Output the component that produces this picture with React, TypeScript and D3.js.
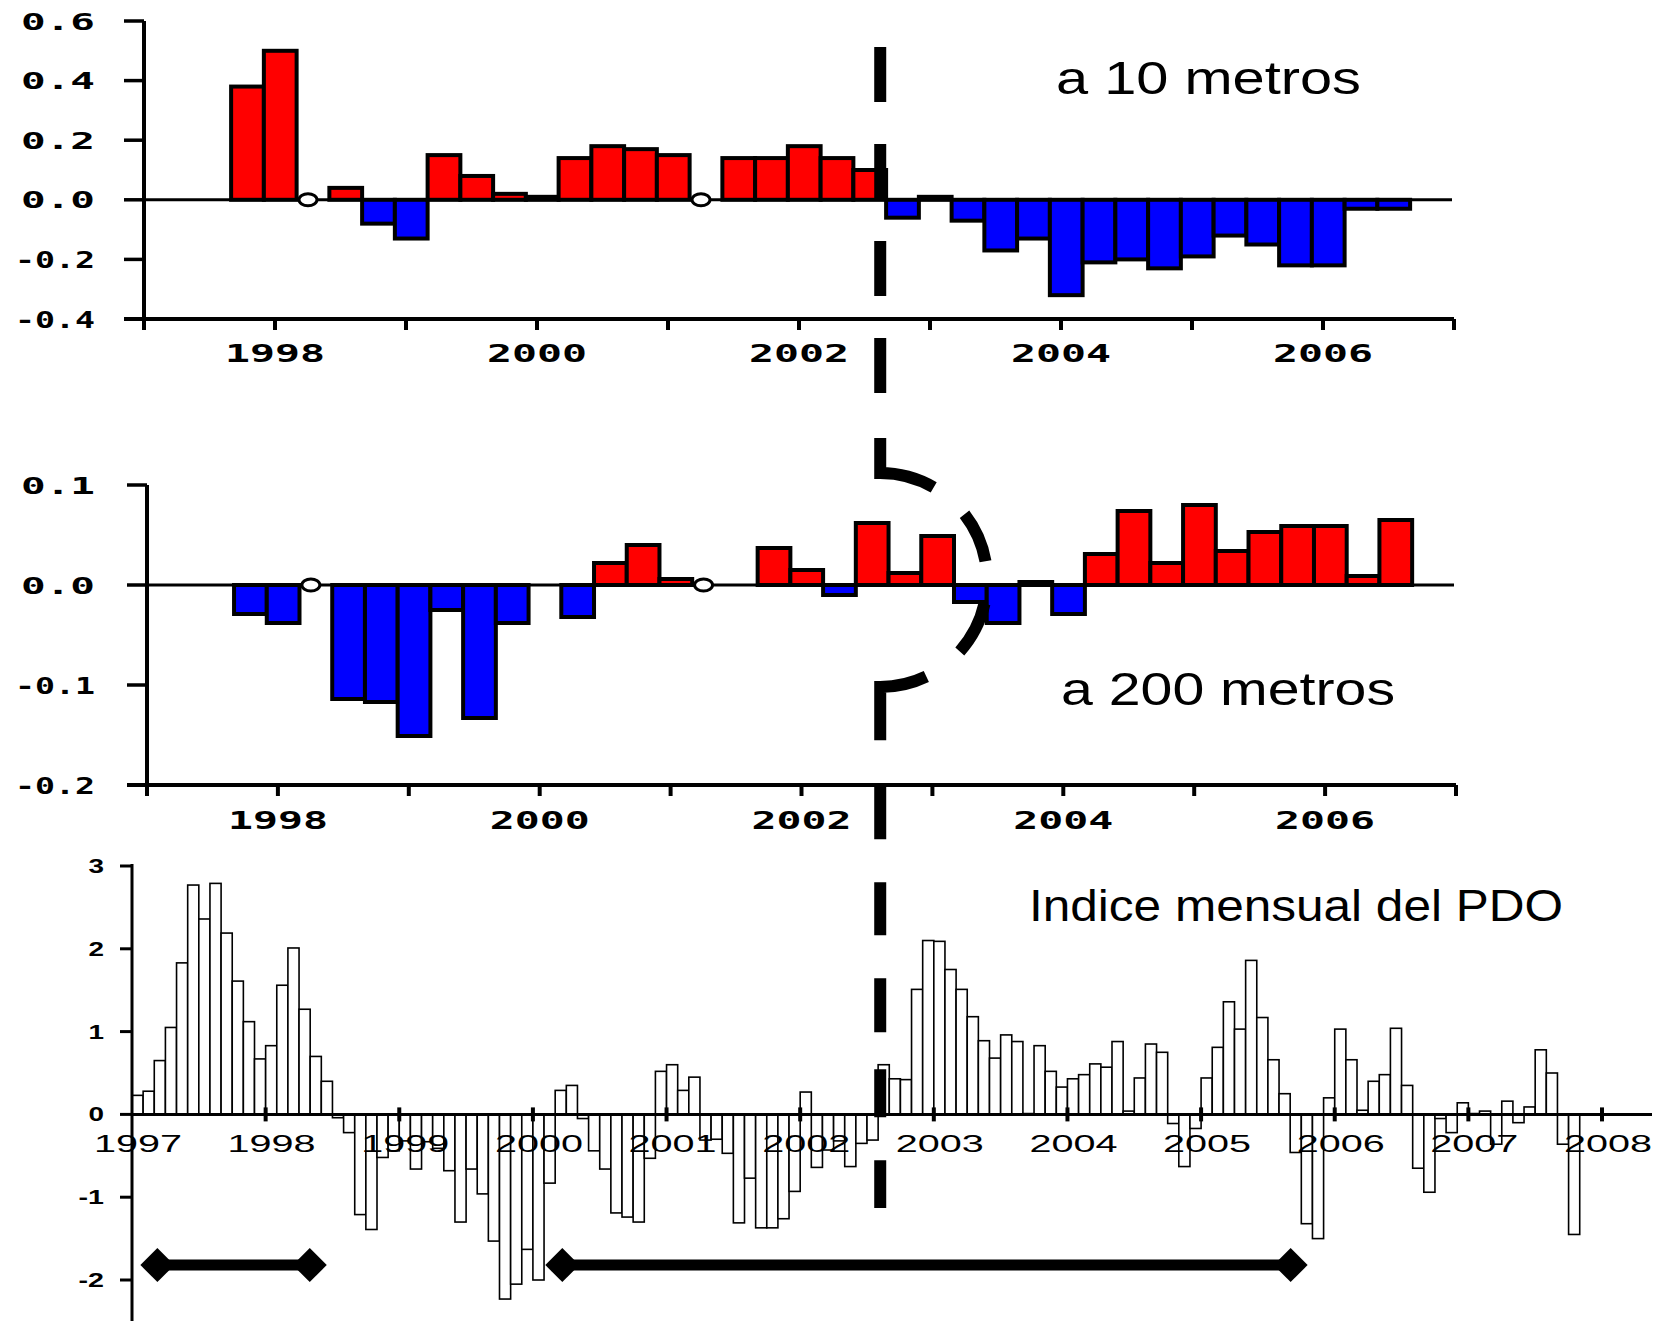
import React from 'react';
import * as d3 from 'd3';

// seasonal means, bar centred on the middle of the season
const seasons = [
  'SON 1997', 'DJF 1998', 'MAM 1998', 'JJA 1998', 'SON 1998',
  'DJF 1999', 'MAM 1999', 'JJA 1999', 'SON 1999',
  'DJF 2000', 'MAM 2000', 'JJA 2000', 'SON 2000',
  'DJF 2001', 'MAM 2001', 'JJA 2001', 'SON 2001',
  'DJF 2002', 'MAM 2002', 'JJA 2002', 'SON 2002',
  'DJF 2003', 'MAM 2003', 'JJA 2003', 'SON 2003',
  'DJF 2004', 'MAM 2004', 'JJA 2004', 'SON 2004',
  'DJF 2005', 'MAM 2005', 'JJA 2005', 'SON 2005',
  'DJF 2006', 'MAM 2006', 'JJA 2006',
];

// anomalies at 10 m (null = no value)
const anom10m = [
  0.38, 0.50, null, 0.04, -0.08,
  -0.13, 0.15, 0.08, 0.02,
  0.01, 0.14, 0.18, 0.17,
  0.15, null, 0.14, 0.14,
  0.18, 0.14, 0.10, -0.06,
  0.01, -0.07, -0.17, -0.13,
  -0.32, -0.21, -0.20, -0.23,
  -0.19, -0.12, -0.15, -0.22,
  -0.22, -0.03, -0.03,
];

// anomalies at 200 m
const anom200m = [
  -0.029, -0.038, null, -0.114, -0.117,
  -0.151, -0.025, -0.133, -0.038,
  null, -0.032, 0.022, 0.040,
  0.006, null, null, 0.037,
  0.015, -0.010, 0.062, 0.012,
  0.049, -0.017, -0.038, 0.003,
  -0.029, 0.031, 0.074, 0.022,
  0.080, 0.034, 0.053, 0.059,
  0.059, 0.009, 0.065,
];

// seasons drawn as a small open marker on the zero line
const openMarks10m = ['MAM 1998', 'MAM 2001'];
const openMarks200m = ['MAM 1998', 'MAM 2001'];

// monthly PDO index, Jan..Dec
const pdo1997 = [0.23, 0.28, 0.65, 1.05, 1.83, 2.77, 2.36, 2.79, 2.19, 1.61, 1.12, 0.67];
const pdo1998 = [0.83, 1.56, 2.01, 1.27, 0.70, 0.40, -0.04, -0.22, -1.21, -1.39, -0.52, -0.44];
const pdo1999 = [-0.32, -0.66, -0.33, -0.41, -0.68, -1.30, -0.66, -0.96, -1.53, -2.23, -2.05, -1.63];
const pdo2000 = [-2.00, -0.83, 0.29, 0.35, -0.05, -0.44, -0.66, -1.19, -1.24, -1.30, -0.53, 0.52];
const pdo2001 = [0.60, 0.29, 0.45, -0.31, -0.30, -0.47, -1.31, -0.77, -1.37, -1.37, -1.26, -0.93];
const pdo2002 = [0.27, -0.64, -0.43, -0.32, -0.63, -0.35, -0.31, 0.60, 0.43, 0.42, 1.51, 2.10];
const pdo2003 = [2.09, 1.75, 1.51, 1.18, 0.89, 0.68, 0.96, 0.88, 0.01, 0.83, 0.52, 0.33];
const pdo2004 = [0.43, 0.48, 0.61, 0.57, 0.88, 0.04, 0.44, 0.85, 0.75, -0.11, -0.63, -0.17];
const pdo2005 = [0.44, 0.81, 1.36, 1.03, 1.86, 1.17, 0.66, 0.25, -0.46, -1.32, -1.50, 0.20];
const pdo2006 = [1.03, 0.66, 0.05, 0.40, 0.48, 1.04, 0.35, -0.65, -0.94, -0.05, -0.22, 0.14];
const pdo2007 = [0.01, 0.04, -0.36, 0.16, -0.10, 0.09, 0.78, 0.50, -0.36, -1.45];

// periods marked with the double arrows (decimal years) and their level
const periods = [[1997.19, 1998.33], [2000.22, 2005.67]];
const periodLevel = -1.82;

// the regime shift marked by the dashed line
const shiftYear = 2002.62;

const yTicks10m = [-0.4, -0.2, 0, 0.2, 0.4, 0.6];
const yTicks200m = [-0.2, -0.1, 0, 0.1];
const yTicksPdo = [-2, -1, 0, 1, 2, 3];
const yearLabelsTop = ['1998', '2000', '2002', '2004', '2006'];
const yearLabelsPdo = ['1997', '1998', '1999', '2000', '2001', '2002', '2003', '2004', '2005', '2006', '2007', '2008'];

const RED = '#ff0000';
const BLUE = '#0000ff';
const PIXEL_FONT = "'DejaVu Sans Mono', monospace";
const SANS = "'Liberation Sans', Arial, sans-serif";

const seasonMid: Record<string, number> = { DJF: 0.04, MAM: 0.29, JJA: 0.54, SON: 0.79 };
const seasonTime = (s: string) => +s.slice(4) + seasonMid[s.slice(0, 3)];

function SeasonPanel({ values, opens, x, y, yTicks, yearLabelY }) {
  const [x0, x1] = x.range();
  const [yBot, yTop] = y.range();
  const y0 = y(0);
  return (
    <g>
      {/* zero line */}
      <line x1={x0} x2={x1 - 2} y1={y0} y2={y0} stroke="#000" strokeWidth={3} />
      {values.map((v, i) => {
        if (v === null) return null;
        const t = seasonTime(seasons[i]);
        const a = x(t - 0.125);
        const b = x(t + 0.125);
        return (
          <rect key={i} x={a} width={b - a} y={Math.min(y(v), y0)} height={Math.abs(y(v) - y0)}
            fill={v >= 0 ? RED : BLUE} stroke="#000" strokeWidth={4} />
        );
      })}
      {opens.map(s => (
        <ellipse key={s} cx={x(seasonTime(s)) - 5} cy={y0} rx={9} ry={6} fill="#fff" stroke="#000" strokeWidth={3} />
      ))}
      {/* axes */}
      <line x1={x0} x2={x0} y1={yTop} y2={yBot + 2} stroke="#000" strokeWidth={4} />
      <line x1={x0 - 20} x2={x1} y1={yBot} y2={yBot} stroke="#000" strokeWidth={4} />
      {yTicks.map(v => (
        <g key={v}>
          <line x1={x0 - 20} x2={x0} y1={y(v)} y2={y(v)} stroke="#000" strokeWidth={3.5} />
          <text x={95 - (v < 0 ? 80 : 74)} y={y(v) + 8.5} textLength={v < 0 ? 80 : 74}
            lengthAdjust="spacingAndGlyphs" fontFamily={PIXEL_FONT} fontWeight="bold" fontSize={23}>
            {d3.format('.1f')(v).replace('−', '-')}
          </text>
        </g>
      ))}
      {d3.range(1997, 2008).map(yr => (
        <line key={yr} x1={x(yr)} x2={x(yr)} y1={yBot} y2={yBot + 11} stroke="#000" strokeWidth={4} />
      ))}
      {yearLabelsTop.map(l => (
        <text key={l} x={x(+l) - 50} y={yearLabelY} textLength={100} lengthAdjust="spacingAndGlyphs"
          fontFamily={PIXEL_FONT} fontWeight="bold" fontSize={24}>{l}</text>
      ))}
    </g>
  );
}

export default function App() {
  const xTop = d3.scaleLinear().domain([1997, 2007]).range([144, 1454]);
  const yTop = d3.scaleLinear().domain([-0.4, 0.6]).range([319, 21]);
  const xMid = d3.scaleLinear().domain([1997, 2007]).range([147, 1456]);
  const yMid = d3.scaleLinear().domain([-0.2, 0.1]).range([785, 485]);
  const xPdo = d3.scaleLinear().domain([1997, 2008]).range([132, 1602]);
  const yPdo = d3.scaleLinear().domain([-2, 3]).range([1280, 866]);

  const pdo = [...pdo1997, ...pdo1998, ...pdo1999, ...pdo2000, ...pdo2001, ...pdo2002,
    ...pdo2003, ...pdo2004, ...pdo2005, ...pdo2006, ...pdo2007];
  const p0 = yPdo(0);

  // dashed regime-shift line with a bracket bulging round the 200 m panel
  const sx = xTop(shiftYear);
  const arcTop = 473;
  const arcBot = 687;
  const r = (arcBot - arcTop) / 2;
  const shiftPath = `M${sx},47 V${arcTop} A${r},${r} 0 0 1 ${sx},${arcBot} V1208`;
  const dashes = [55, 42, 55, 42, 55, 42, 55, 45, 91, 41, 52, 43, 54, 42, 101, 46, 53, 43, 53, 43, 54, 37, 48, 43, 48, 200];

  const tickLabelWidth = (s: string) => s.replace('-', '').length * 15.5 + (s.startsWith('-') ? 10 : 0);

  return (
    <div>
      <style>{'body{margin:0}'}</style>
      <svg width={1676} height={1321} style={{ display: 'block', background: '#fff' }}>
        <SeasonPanel values={anom10m} opens={openMarks10m} x={xTop} y={yTop} yTicks={yTicks10m} yearLabelY={362} />
        <SeasonPanel values={anom200m} opens={openMarks200m} x={xMid} y={yMid} yTicks={yTicks200m} yearLabelY={829} />

        {/* monthly PDO */}
        <g>
          {pdo.map((v, i) => {
            const a = xPdo(1997 + i / 12);
            const b = xPdo(1997 + (i + 1) / 12);
            return (
              <rect key={i} x={a} width={b - a} y={Math.min(yPdo(v), p0)} height={Math.abs(yPdo(v) - p0)}
                fill="#fff" stroke="#000" strokeWidth={1.6} />
            );
          })}
          <line x1={132} x2={132} y1={864} y2={1321} stroke="#000" strokeWidth={3} />
          <line x1={132} x2={1652} y1={p0} y2={p0} stroke="#000" strokeWidth={3} />
          {yTicksPdo.map(v => {
            const s = d3.format('d')(v).replace('−', '-');
            const w = tickLabelWidth(s);
            return (
              <g key={v}>
                <line x1={120} x2={132} y1={yPdo(v)} y2={yPdo(v)} stroke="#000" strokeWidth={3} />
                <text x={104 - w} y={yPdo(v) + 7} textLength={w} lengthAdjust="spacingAndGlyphs"
                  fontFamily={SANS} fontWeight="bold" fontSize={20}>{s}</text>
              </g>
            );
          })}
          {d3.range(1998, 2009).map(yr => (
            <line key={yr} x1={xPdo(yr)} x2={xPdo(yr)} y1={p0 - 7} y2={p0 + 7} stroke="#000" strokeWidth={4} />
          ))}
          {yearLabelsPdo.map(l => (
            <text key={l} x={xPdo(+l) + 6 - 44} y={1152} textLength={88} lengthAdjust="spacingAndGlyphs"
              fontFamily={SANS} fontSize={23}>{l}</text>
          ))}
          {periods.map(([s, e], i) => {
            const yy = yPdo(periodLevel);
            const diamond = (cx: number) => `${cx - 17},${yy} ${cx},${yy - 17} ${cx + 17},${yy} ${cx},${yy + 17}`;
            return (
              <g key={i}>
                <line x1={xPdo(s)} x2={xPdo(e)} y1={yy} y2={yy} stroke="#000" strokeWidth={11} />
                <polygon points={diamond(xPdo(s))} fill="#000" />
                <polygon points={diamond(xPdo(e))} fill="#000" />
              </g>
            );
          })}
        </g>

        <path d={shiftPath} fill="none" stroke="#000" strokeWidth={12} strokeDasharray={dashes.join(' ')} />

        <text x={1056} y={94} textLength={305} lengthAdjust="spacingAndGlyphs" fontFamily={SANS} fontSize={46}>a 10 metros</text>
        <text x={1061} y={705} textLength={334} lengthAdjust="spacingAndGlyphs" fontFamily={SANS} fontSize={47}>a 200 metros</text>
        <text x={1029} y={921} textLength={534} lengthAdjust="spacingAndGlyphs" fontFamily={SANS} fontSize={45}>Indice mensual del PDO</text>
      </svg>
    </div>
  );
}
